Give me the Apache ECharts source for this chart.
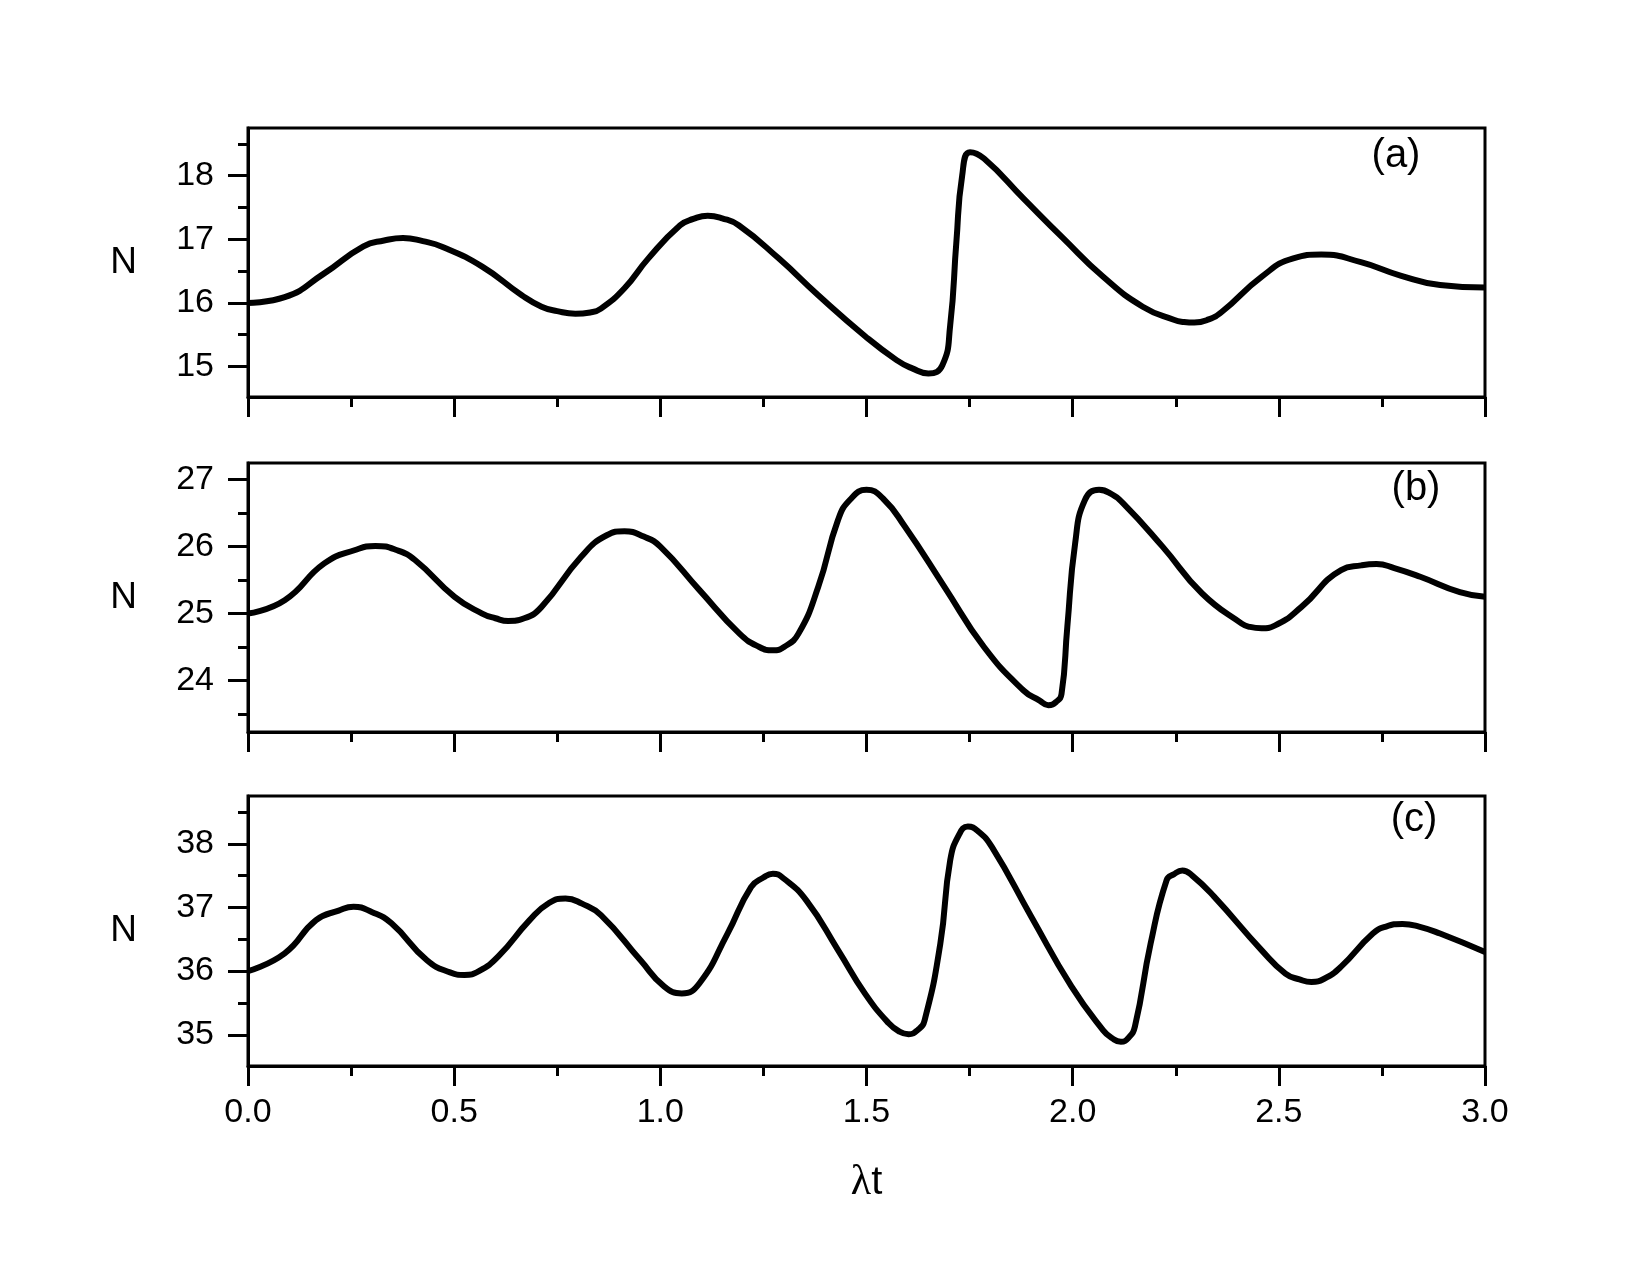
<!DOCTYPE html>
<html>
<head>
<meta charset="utf-8">
<script src="https://cdn.jsdelivr.net/npm/echarts@6/dist/echarts.min.js"></script>
<style>
html,body{margin:0;padding:0;background:#fff;}
#chart{width:1650px;height:1284px;}
</style>
</head>
<body>
<div id="chart"></div>
<script>
// ---- Data ----
const tA = [0, 0.089, 0.184, 0.28, 0.33, 0.376, 0.424, 0.472, 0.568, 0.664, 0.712, 0.75, 0.794, 0.83, 0.856, 0.913, 0.971, 1.048, 1.08, 1.115, 1.15, 1.19, 1.287, 1.383, 1.496, 1.573, 1.611, 1.65, 1.684, 1.703, 1.718, 1.732, 1.751, 1.785, 1.881, 1.978, 2.074, 2.17, 2.247, 2.27, 2.295, 2.33, 2.362, 2.458, 2.535, 2.603, 2.699, 2.795, 2.891, 3.0];
const nA = [16.0, 16.09, 16.46, 16.89, 16.98, 17.02, 16.97, 16.88, 16.57, 16.12, 15.94, 15.87, 15.83, 15.85, 15.91, 16.23, 16.70, 17.22, 17.32, 17.37, 17.33, 17.22, 16.70, 16.12, 15.48, 15.10, 14.97, 14.89, 15.02, 15.65, 16.96, 18.0, 18.37, 18.27, 17.64, 17.01, 16.41, 15.94, 15.73, 15.70, 15.69, 15.74, 15.86, 16.41, 16.70, 16.76, 16.64, 16.43, 16.28, 16.24];

const tB = [0, 0.089, 0.185, 0.26, 0.309, 0.36, 0.405, 0.501, 0.568, 0.60, 0.631, 0.67, 0.712, 0.808, 0.87, 0.913, 0.96, 1.0, 1.095, 1.192, 1.24, 1.273, 1.30, 1.335, 1.383, 1.431, 1.46, 1.50, 1.54, 1.593, 1.689, 1.785, 1.881, 1.92, 1.941, 1.96, 1.973, 1.987, 2.006, 2.030, 2.064, 2.09, 2.122, 2.218, 2.314, 2.410, 2.43, 2.458, 2.49, 2.555, 2.651, 2.70, 2.737, 2.78, 2.843, 2.939, 3.0];
const nB = [25.0, 25.20, 25.75, 25.95, 26.01, 25.95, 25.80, 25.25, 25.0, 24.93, 24.89, 24.93, 25.10, 25.85, 26.17, 26.23, 26.15, 26.0, 25.35, 24.70, 24.50, 24.45, 24.50, 24.70, 25.40, 26.40, 26.70, 26.85, 26.72, 26.30, 25.40, 24.50, 23.85, 23.70, 23.63, 23.68, 23.80, 24.80, 26.05, 26.70, 26.85, 26.80, 26.65, 26.0, 25.30, 24.85, 24.80, 24.78, 24.82, 25.10, 25.65, 25.72, 25.74, 25.68, 25.55, 25.32, 25.25];

const tC = [0, 0.089, 0.165, 0.22, 0.256, 0.30, 0.348, 0.434, 0.49, 0.525, 0.56, 0.607, 0.683, 0.73, 0.770, 0.81, 0.856, 0.952, 1.009, 1.052, 1.095, 1.163, 1.220, 1.25, 1.273, 1.30, 1.354, 1.431, 1.496, 1.554, 1.58, 1.602, 1.625, 1.641, 1.679, 1.703, 1.725, 1.746, 1.77, 1.804, 1.900, 1.997, 2.074, 2.095, 2.117, 2.135, 2.151, 2.189, 2.228, 2.245, 2.266, 2.29, 2.343, 2.458, 2.516, 2.55, 2.579, 2.61, 2.651, 2.728, 2.76, 2.800, 2.84, 2.891, 3.0];
const nC = [36.0, 36.28, 36.80, 36.95, 37.01, 36.93, 36.75, 36.17, 35.98, 35.94, 36.0, 36.23, 36.80, 37.07, 37.14, 37.06, 36.88, 36.17, 35.76, 35.65, 35.81, 36.59, 37.32, 37.47, 37.53, 37.45, 37.11, 36.33, 35.65, 35.18, 35.05, 35.01, 35.08, 35.23, 36.43, 37.74, 38.15, 38.27, 38.2, 37.95, 36.85, 35.76, 35.07, 34.95, 34.89, 34.95, 35.13, 36.43, 37.43, 37.52, 37.58, 37.5, 37.17, 36.33, 35.96, 35.87, 35.83, 35.88, 36.07, 36.59, 36.70, 36.74, 36.70, 36.59, 36.30];

const yMajorA = [15, 16, 17, 18];
const yMinorA = [15.5, 16.5, 17.5, 18.5];
const yMajorB = [24, 25, 26, 27];
const yMinorB = [23.5, 24.5, 25.5, 26.5];
const yMajorC = [35, 36, 37, 38];
const yMinorC = [34.5, 35.5, 36.5, 37.5, 38.5];
const panelLabels = ['(a)', '(b)', '(c)'];
const yName = 'N';

// ---- Layout ----
const FONT = '"Liberation Sans", Arial, sans-serif';
const grids = [
  {left: 248, width: 1237, top: 128, height: 269},
  {left: 248, width: 1237, top: 463, height: 269},
  {left: 248, width: 1237, top: 796, height: 270}
];
const yRanges = [[14.52, 18.75], [23.23, 27.25], [34.51, 38.75]];
const majors = [yMajorA, yMajorB, yMajorC];
const minors = [yMinorA, yMinorB, yMinorC];
const series = [[tA, nA], [tB, nB], [tC, nC]];

const black = '#000';
const option = {
  backgroundColor: '#fff',
  animation: false,
  grid: grids.map(g => Object.assign({show: true, borderColor: black, borderWidth: 3, backgroundColor: 'transparent'}, g)),
  xAxis: grids.map((g, i) => ({
    type: 'value', gridIndex: i, min: 0, max: 3, interval: 0.5,
    axisLine: {show: true, onZero: false, lineStyle: {color: black, width: 3}},
    axisTick: {show: true, length: 20, lineStyle: {color: black, width: 3}},
    minorTick: {show: true, splitNumber: 2, length: 10, lineStyle: {color: black, width: 3}},
    splitLine: {show: false}, minorSplitLine: {show: false},
    axisLabel: {show: i === 2, color: black, fontSize: 34, fontFamily: FONT, margin: 30,
      formatter: v => v.toFixed(1)},
    name: i === 2 ? '{l|λ}{t|t}' : '',
    nameLocation: 'middle', nameGap: 96,
    nameTextStyle: {rich: {
      l: {fontFamily: '"Liberation Serif", "DejaVu Serif", serif', fontSize: 42, color: black},
      t: {fontFamily: FONT, fontSize: 40, color: black}
    }}
  })),
  yAxis: [],
  series: [],
  graphic: []
};

grids.forEach((g, i) => {
  option.yAxis.push({
    type: 'value', gridIndex: i, position: 'left', min: yRanges[i][0], max: yRanges[i][1],
    axisLine: {show: true, onZero: false, lineStyle: {color: black, width: 3}},
    axisTick: {show: true, length: 20, customValues: majors[i], lineStyle: {color: black, width: 3}},
    axisLabel: {show: true, customValues: majors[i], color: black, fontSize: 34, fontFamily: FONT, margin: 34},
    splitLine: {show: false},
    name: yName, nameLocation: 'middle', nameRotate: 0, nameGap: 111,
    nameTextStyle: {color: black, fontSize: 37, fontFamily: FONT}
  });
  option.yAxis.push({
    type: 'value', gridIndex: i, position: 'left', min: yRanges[i][0], max: yRanges[i][1],
    axisLine: {show: false},
    axisTick: {show: true, length: 10, customValues: minors[i], lineStyle: {color: black, width: 3}},
    axisLabel: {show: false},
    splitLine: {show: false}
  });
  const [ts, ns] = series[i];
  option.series.push({
    type: 'line', xAxisIndex: i, yAxisIndex: 2 * i,
    data: ts.map((t, k) => [t, ns[k]]),
    showSymbol: false, symbol: 'none', smooth: 0.5,
    lineStyle: {color: black, width: 6}
  });
});

const labelPos = [[1396, 156], [1416, 489], [1414, 820]];
panelLabels.forEach((txt, i) => {
  option.graphic.push({
    type: 'text', x: labelPos[i][0], y: labelPos[i][1], z: 100,
    style: {text: txt, fill: black, font: '40px ' + FONT, align: 'center', verticalAlign: 'middle',
      textAlign: 'center', textVerticalAlign: 'middle'}
  });
});

const chart = echarts.init(document.getElementById('chart'), null, {renderer: 'canvas'});
chart.setOption(option);
</script>
</body>
</html>
